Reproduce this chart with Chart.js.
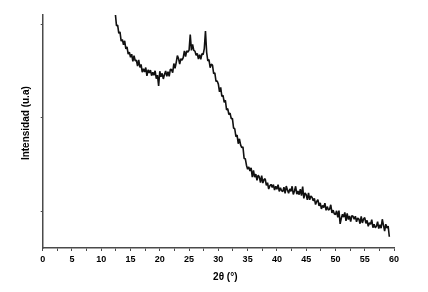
<!DOCTYPE html>
<html>
<head>
<meta charset="utf-8">
<script src="https://cdn.jsdelivr.net/npm/chart.js@4/dist/chart.umd.min.js"></script>
<style>
html,body{margin:0;padding:0;background:#fff;}
canvas{display:block;}
</style>
</head>
<body>
<canvas id="c" width="428" height="292"></canvas>
<script>
// 2θ sampling: start 12.0°, step 0.2°
const thetaStart = 12.0;
const thetaStep = 0.2;
// Intensity (arbitrary units), one row per degree (d, d+.2, d+.4, d+.6, d+.8)
const intensity = [
  93.4, 86.9, 84.6, 79.3, 79.5,
  76, 76.6, 72.7, 73.4, 71.1,
  72.8, 69.4, 70.2, 67.1, 68,
  65.8, 67.1, 64, 66.5, 64.3,
  64.5, 62, 64.7, 61.4, 62.7,
  59.4, 60.9, 59.5, 61.4, 57.8,
  60.4, 59.1, 60.3, 57.9, 59.4,
  58.1, 60, 56.6, 58.1, 53.5,
  59.8, 57.4, 58.9, 56.5, 58.4,
  59.9, 57.6, 59.6, 57.6, 60.6,
  60.5, 59.2, 63.1, 61, 63.5,
  66.5, 65.2, 62.9, 65.2, 64.5,
  65.6, 68.5, 66.1, 68.5, 68,
  68.8, 75.5, 68.7, 71.3, 68.7,
  68.4, 66.6, 67.4, 65, 66.9,
  64.9, 67.3, 66.9, 69.5, 77,
  67.9, 64.2, 64.8, 61.3, 62.8,
  62.4, 58.8, 59.1, 55.5, 55.6,
  54.3, 51, 52.9, 49, 49.5,
  46.5, 47.4, 43.3, 43.8, 41.3,
  41.9, 39.5, 39.6, 35.5, 35.2,
  31.8, 32.5, 28.8, 30.9, 28.3,
  27.1, 27.5, 22.5, 22.4, 19.6,
  17.9, 18.9, 17.1, 18.5, 14.5,
  17.4, 14.5, 15.8, 13.1, 15.4,
  14.5, 12.2, 15.1, 12, 13.5,
  13.8, 11, 12.1, 9.4, 10.8,
  11.4, 10.1, 11.3, 9, 10.6,
  9.3, 11.3, 8.4, 10, 8.7,
  8.3, 10.2, 7.6, 10.7, 9,
  7.6, 9.5, 8.4, 10.6, 7.1,
  8.6, 10.6, 7.2, 8.6, 7,
  9.4, 6.6, 10.5, 5.4, 7.8,
  7, 4.8, 7.8, 4.8, 6.4,
  5.9, 4.4, 5.4, 2.8, 4.1,
  4.9, 2.2, 3.5, 0.9, 2.4,
  1.5, 3.4, 0.3, 1.9, 0.4,
  0.8, 2.7, -0.8, 0.4, -1.2,
  -1.5, 0.1, -2.7, 0.2, -5.5,
  -3.1, -1.4, -2.6, -0.6, -4.2,
  -1, -3.6, -2.1, -4.5, -2,
  -2.2, -3.5, -2.2, -4.6, -3,
  -3.4, -5.4, -2.3, -5.1, -3.4,
  -2.8, -5.3, -4, -6.5, -5,
  -5.7, -3.7, -7.1, -5.6, -7.1,
  -6.5, -4.5, -7.5, -5.9, -7.3,
  -3.5, -6, -8.6, -5.6, -7.3,
  -6.4, -11
];
const xTickValues = [0,5,10,15,20,25,30,35,40,45,50,55,60];
const yTickValues = [0, 40, 80];
const xTitle = '     2θ (°)';
const yTitle = '      Intensidad (u.a)';

const points = intensity.map((v, i) => ({x: +(thetaStart + i * thetaStep).toFixed(2), y: v}));

const axisColor = '#4a4a4a';
const fam = 'Liberation Sans, Arial, sans-serif';
new Chart(document.getElementById('c'), {
  type: 'line',
  data: {
    datasets: [{
      data: points,
      borderColor: '#111',
      borderWidth: 1.6,
      borderJoinStyle: 'bevel',
      pointRadius: 0,
      tension: 0,
      fill: false
    }]
  },
  options: {
    responsive: false,
    animation: false,
    events: [],
    layout: {padding: {top: 15, right: 34, left: 0, bottom: 0}},
    plugins: {legend: {display: false}, tooltip: {enabled: false}},
    scales: {
      x: {
        type: 'linear',
        min: 0, max: 60,
        afterBuildTicks: (s) => {
          const t = [];
          for (let i = 0; i <= 24; i++) t.push({value: i * 2.5});
          s.ticks = t;
        },
        afterFit: (s) => { s.height = 44; },
        ticks: {
          autoSkip: false, maxRotation: 0, padding: 2.8,
          color: '#000',
          font: {family: fam, size: 9, weight: 'bold'},
          callback: (v) => (xTickValues.includes(v) ? String(v) : '')
        },
        grid: {drawOnChartArea: false, drawTicks: true, tickLength: 3, tickColor: axisColor, tickWidth: 1},
        border: {display: true, color: axisColor, width: 1.5},
        title: {
          display: true, text: xTitle, color: '#000',
          font: {family: fam, size: 10, weight: 'bold'},
          padding: {top: 0, bottom: 8.5}
        }
      },
      y: {
        type: 'linear',
        min: -15.8, max: 83.85,
        afterBuildTicks: (s) => { s.ticks = yTickValues.map(v => ({value: v})); },
        afterFit: (s) => { s.width = 42.7; },
        ticks: {display: false},
        grid: {drawOnChartArea: false, drawTicks: true, tickLength: 2, tickColor: axisColor, tickWidth: 1},
        border: {display: true, color: axisColor, width: 1.5},
        title: {
          display: true, text: yTitle, color: '#000',
          font: {family: fam, size: 10, weight: 'bold'},
          padding: {top: 20.5, bottom: 0}
        }
      }
    }
  }
});
</script>
</body>
</html>
